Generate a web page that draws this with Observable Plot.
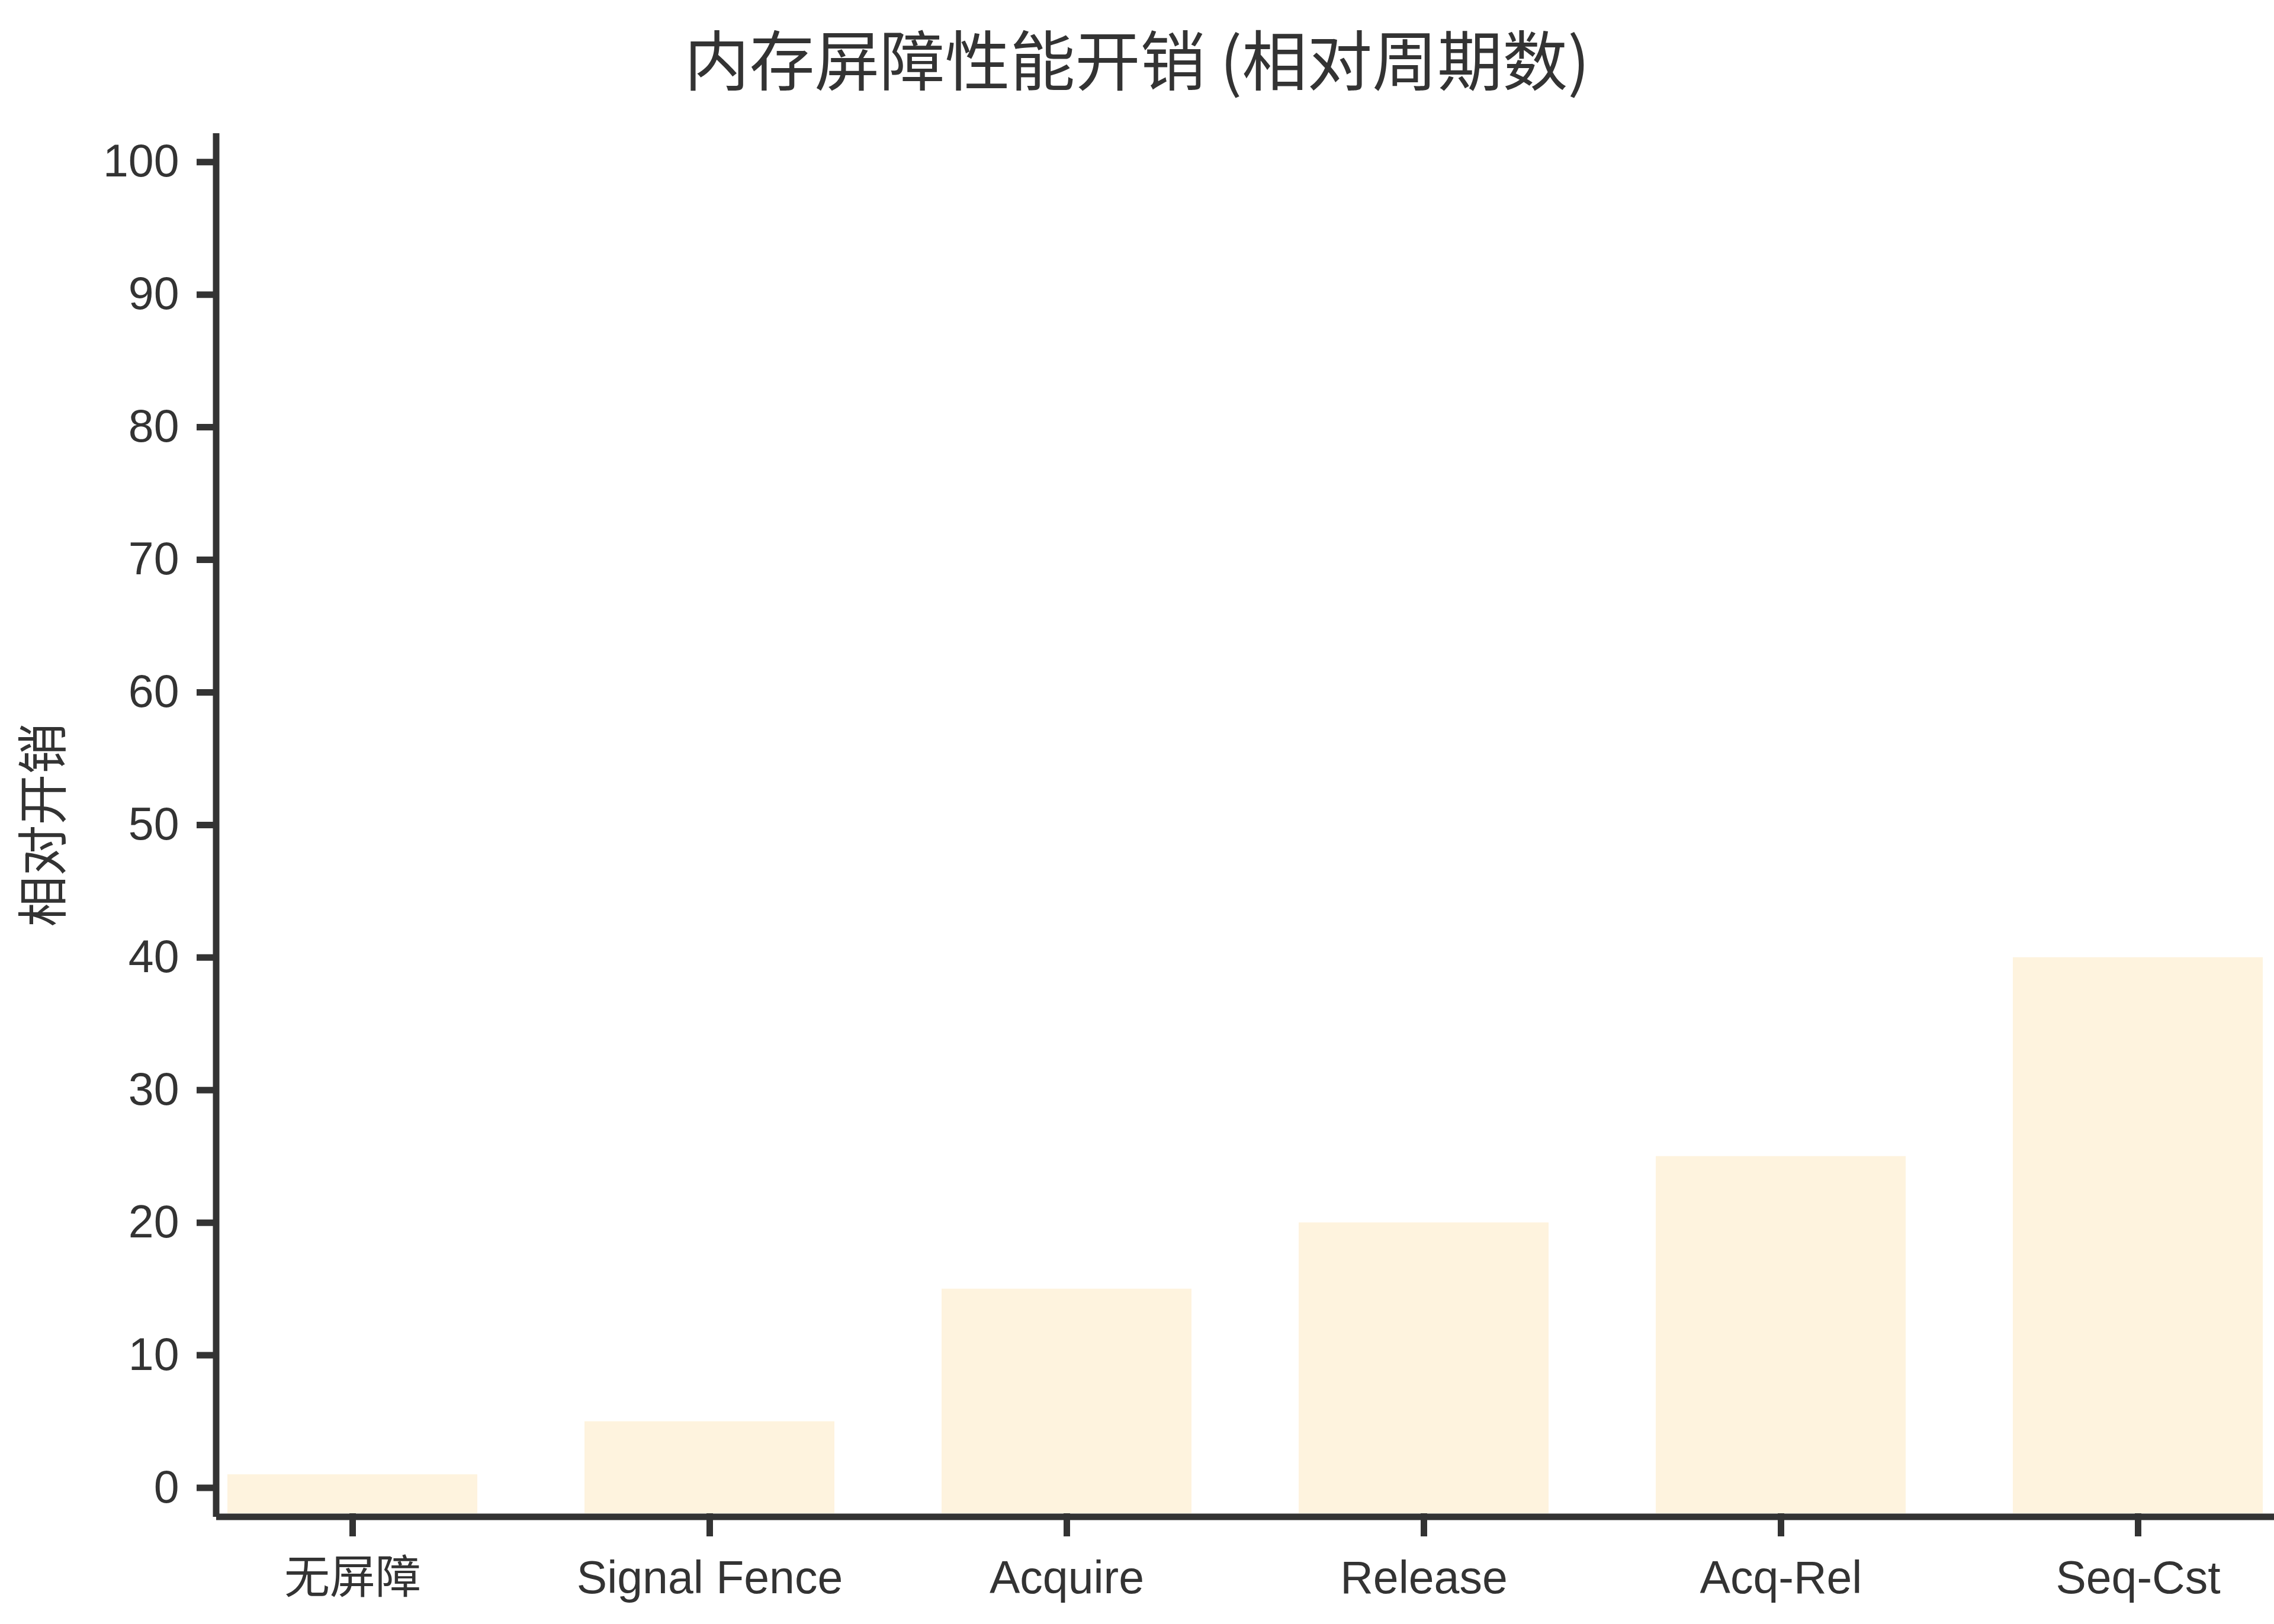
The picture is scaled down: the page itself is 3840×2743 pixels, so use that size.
<!DOCTYPE html>
<html>
<head>
<meta charset="utf-8">
<script src="https://cdn.jsdelivr.net/npm/d3@7"></script>
<script src="https://cdn.jsdelivr.net/npm/@observablehq/plot@0.6"></script>
<style>
  html, body { margin: 0; padding: 0; background: #ffffff; }
  #wrap { position: relative; width: 3840px; height: 2743px; overflow: hidden; }
  #title {
    position: absolute; left: 0; top: 41px; width: 3840px;
    text-align: center; font-family: "Noto Sans CJK SC", "Liberation Sans", sans-serif;
    font-size: 110px; line-height: 110px; color: #333333; white-space: nowrap;
  }
  #chart { position: absolute; left: 0; top: 0; }
</style>
</head>
<body>
<div id="wrap">
  <div id="chart"></div>
  <div id="title">内存屏障性能开销 (相对周期数)</div>
</div>
<script>
const categories = ["无屏障", "Signal Fence", "Acquire", "Release", "Acq-Rel", "Seq-Cst"];
const values = [1, 5, 15, 20, 25, 40];
const yTicks = [0, 10, 20, 30, 40, 50, 60, 70, 80, 90, 100];
const yLabel = "相对开销";
const yMin = -1.94, yMax = 101.93;

const data = categories.map((c, i) => ({cat: c, val: values[i]}));

const ink = "#333333";
const chart = Plot.plot({
  width: 3840,
  height: 2743,
  marginLeft: 370,
  marginRight: 0,
  marginTop: 230,
  marginBottom: 187,
  style: {fontFamily: "'Liberation Sans', 'Noto Sans CJK SC', sans-serif", color: ink, background: "white"},
  x: {domain: categories, range: [292.2, 3913.8], paddingInner: 0.3, paddingOuter: 0.15, label: null},
  y: {domain: [yMin, yMax], label: null},
  marks: [
    Plot.barY(data, {x: "cat", y1: yMin, y2: "val", fill: "#FEF3DE"}),
    Plot.frame({anchor: "left", stroke: ink, strokeWidth: 11, dx: -5.5}),
    Plot.frame({anchor: "bottom", stroke: ink, strokeWidth: 11, dy: 5.5}),
    Plot.axisY({ticks: yTicks, tickSize: 38, tickPadding: 30, strokeWidth: 11, stroke: ink, fill: ink, fontSize: 77, label: null}),
    Plot.axisX({tickSize: 39, tickPadding: 41, strokeWidth: 11, stroke: ink, fill: ink, fontSize: 77, label: null}),
    Plot.text([yLabel], {frameAnchor: "left", textAnchor: "middle", dx: -294, rotate: -90, fontSize: 86, fill: ink, fontFamily: "'Noto Sans CJK SC', sans-serif"})
  ]
});
document.getElementById("chart").appendChild(chart);
</script>
</body>
</html>
